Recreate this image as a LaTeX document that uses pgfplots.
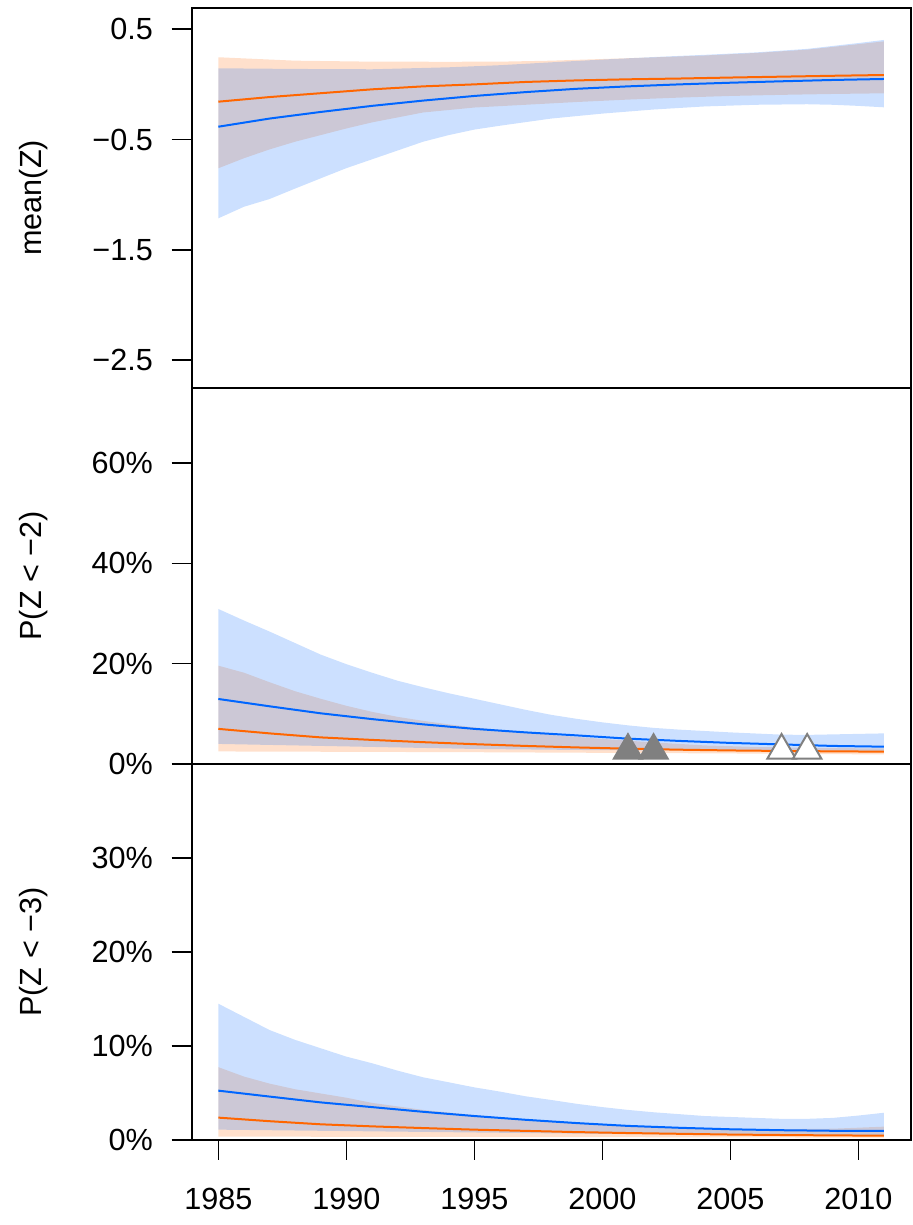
\documentclass[border=0pt]{standalone}
\usepackage{fontspec}
\setmainfont{Liberation Sans}
\usepackage{pgfplots}
\pgfplotsset{compat=1.18}
\definecolor{cblue}{RGB}{0,102,255}
\definecolor{corange}{RGB}{255,102,0}
\definecolor{tgray}{RGB}{128,128,128}
\pgfplotsset{
 panel/.style={
  scale only axis, width=359.45pt,
  xmin=1983.96, xmax=2012.04,
  axis line style={line width=0.9pt},
  major tick style={line width=0.8pt, black},
  tick align=outside, major tick length=10pt,
  ytick pos=left, xtick pos=lower,
  font=\fontsize{15.3}{18}\selectfont,
  yticklabel style={anchor=east, inner sep=0pt, xshift=-9.2pt},
  xticklabel style={anchor=north, inner sep=0pt, yshift=-14pt},
  every axis y label/.style={at={(axis description cs:-0.22,0.5)}, rotate=90, anchor=center},
  /pgf/number format/assume math mode=true,
 },
 band/.style={draw=none, fill=#1, fill opacity=0.2},
 cline/.style={#1, line width=1pt, no markers},
}
\begin{document}
\begin{tikzpicture}
% ---------- top panel ----------
\begin{axis}[panel, at={(95.85pt,418.65pt)}, anchor=south west, height=189.85pt,
  ymin=-2.751, ymax=0.693, xtick=\empty,
  ytick={-2.5,-1.5,-0.5,0.5}, yticklabels={−2.5,−1.5,−0.5,0.5},
  ylabel={mean(Z)}]
\addplot[band=corange] coordinates {
 (1985,0.246) (1988,0.215) (1991,0.206) (1994,0.205) (1996,0.206) (1998,0.215) (2000,0.23) (2002,0.245) (2004,0.262) (2006,0.285) (2008,0.315) (2010,0.365) (2011,0.39)
 (2011,-0.081) (2009,-0.087) (2007,-0.095) (2005,-0.105) (2003,-0.12) (2001,-0.138) (1999,-0.16) (1997,-0.185) (1995,-0.21) (1993,-0.255) (1991,-0.345) (1990,-0.4) (1989,-0.46) (1988,-0.52) (1987,-0.59) (1986,-0.67) (1985,-0.761)
} -- cycle;
\addplot[band=cblue] coordinates {
 (1985,0.146) (1988,0.14) (1991,0.137) (1994,0.155) (1996,0.174) (1998,0.2) (2000,0.225) (2002,0.248) (2004,0.268) (2006,0.29) (2008,0.322) (2010,0.375) (2011,0.403)
 (2011,-0.208) (2010,-0.195) (2009,-0.185) (2008,-0.18) (2006,-0.185) (2004,-0.2) (2002,-0.228) (2000,-0.265) (1998,-0.31) (1996,-0.375) (1995,-0.41) (1994,-0.46) (1993,-0.52) (1992,-0.6) (1991,-0.68) (1990,-0.76) (1989,-0.852) (1988,-0.945) (1987,-1.04) (1986,-1.11) (1985,-1.215)
} -- cycle;
\addplot[cline=corange] coordinates {
 (1985,-0.157) (1987,-0.115) (1989,-0.08) (1991,-0.045) (1993,-0.018) (1995,0.0) (1997,0.022) (1999,0.036) (2001,0.046) (2003,0.053) (2005,0.062) (2007,0.07) (2009,0.078) (2011,0.085)};
\addplot[cline=cblue] coordinates {
 (1985,-0.384) (1987,-0.31) (1989,-0.25) (1991,-0.195) (1993,-0.147) (1995,-0.105) (1997,-0.07) (1999,-0.04) (2001,-0.018) (2003,0.0) (2005,0.015) (2007,0.028) (2009,0.04) (2011,0.049)};
\end{axis}
% ---------- middle panel ----------
\begin{axis}[panel, at={(95.85pt,230.5pt)}, anchor=south west, height=188.15pt,
  ymin=0, ymax=75, xtick=\empty,
  ytick={0,20,40,60}, yticklabels={0\%,20\%,40\%,60\%},
  ylabel={P(Z < −2)}]
\addplot[band=corange] coordinates {
 (1985,19.6) (1986,18.2) (1987,16.3) (1988,14.5) (1989,13.0) (1990,11.6) (1991,10.4) (1992,9.4) (1993,8.6) (1994,7.9) (1995,7.3) (1996,6.8) (1998,5.8) (2000,5.0) (2002,4.3) (2004,3.7) (2006,3.4) (2008,3.2) (2011,3.1)
 (2011,1.9) (2005,2.1) (1995,2.35) (1985,2.5)
} -- cycle;
\addplot[band=cblue] coordinates {
 (1985,30.9) (1986,28.6) (1987,26.4) (1988,24.1) (1989,21.8) (1990,19.9) (1991,18.2) (1992,16.6) (1993,15.3) (1994,14.1) (1995,13.0) (1996,11.9) (1997,10.8) (1998,9.8) (1999,9.0) (2000,8.3) (2001,7.7) (2002,7.2) (2003,6.85) (2005,6.3) (2007,5.85) (2008,5.8) (2009,5.9) (2011,6.1)
 (2011,2.6) (2005,2.65) (2000,2.75) (1995,3.0) (1990,3.5) (1985,4.0)
} -- cycle;
\addplot[cline=corange] coordinates {
 (1985,7.0) (1987,6.1) (1989,5.3) (1991,4.8) (1993,4.35) (1995,3.95) (1997,3.6) (1999,3.3) (2001,3.05) (2003,2.85) (2005,2.7) (2007,2.6) (2009,2.52) (2011,2.46)};
\addplot[cline=cblue] coordinates {
 (1985,12.96) (1987,11.5) (1989,10.1) (1991,8.95) (1993,7.9) (1995,7.0) (1997,6.3) (1999,5.7) (2001,5.05) (2003,4.6) (2005,4.2) (2007,3.9) (2009,3.6) (2011,3.45)};
\addplot[only marks, mark=triangle*, mark size=8.5pt, mark options={fill=tgray, draw=tgray, line width=0.6pt}] coordinates {(2001,2.7) (2002,2.7)};
\addplot[only marks, mark=triangle*, mark size=8.2pt, mark options={fill=white, draw=tgray, line width=1pt}] coordinates {(2007,2.7) (2008,2.7)};
\end{axis}
% ---------- bottom panel ----------
\begin{axis}[panel, at={(95.85pt,42.5pt)}, anchor=south west, height=188pt,
  ymin=0, ymax=40,
  xtick={1985,1990,1995,2000,2005,2010}, xticklabels={1985,1990,1995,2000,2005,2010},
  ytick={0,10,20,30}, yticklabels={0\%,10\%,20\%,30\%},
  ylabel={P(Z < −3)}]
\addplot[band=corange] coordinates {
 (1985,7.75) (1986,6.75) (1987,6.0) (1988,5.4) (1989,4.95) (1990,4.5) (1991,3.95) (1993,3.2) (1995,2.65) (1997,2.2) (1999,1.85) (2001,1.5) (2003,1.3) (2005,1.18) (2007,1.15) (2009,1.2) (2011,1.42)
 (2011,0.25) (2000,0.3) (1985,0.36)
} -- cycle;
\addplot[band=cblue] coordinates {
 (1985,14.5) (1986,13.1) (1987,11.7) (1988,10.65) (1989,9.76) (1990,8.87) (1991,8.17) (1992,7.38) (1993,6.67) (1994,6.14) (1995,5.6) (1996,5.15) (1997,4.65) (1998,4.26) (1999,3.85) (2000,3.5) (2001,3.2) (2002,2.95) (2003,2.75) (2004,2.55) (2005,2.45) (2006,2.35) (2007,2.25) (2008,2.25) (2009,2.35) (2010,2.6) (2011,2.9)
 (2011,0.5) (2005,0.55) (2000,0.65) (1995,0.8) (1990,0.95) (1985,1.1)
} -- cycle;
\addplot[cline=corange] coordinates {
 (1985,2.38) (1987,2.0) (1989,1.67) (1991,1.45) (1993,1.27) (1995,1.1) (1997,0.97) (1999,0.84) (2001,0.74) (2003,0.66) (2005,0.58) (2007,0.53) (2009,0.49) (2011,0.46)};
\addplot[cline=cblue] coordinates {
 (1985,5.25) (1987,4.62) (1989,4.0) (1991,3.5) (1993,3.0) (1995,2.55) (1997,2.15) (1999,1.8) (2001,1.5) (2003,1.3) (2005,1.14) (2007,1.04) (2009,0.98) (2011,0.96)};
\end{axis}
\pgfresetboundingbox
\path[use as bounding box] (0,0) rectangle (456pt,612.5pt);
\end{tikzpicture}
\end{document}
